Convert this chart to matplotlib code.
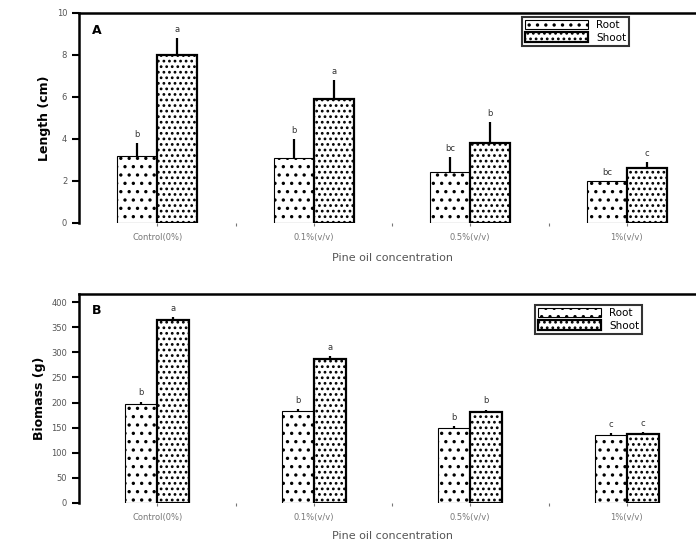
import numpy as np
import matplotlib
matplotlib.use('Agg')
import matplotlib.pyplot as plt

# data
categories = ['Control(0%)', '0.1%(v/v)', '0.5%(v/v)', '1%(v/v)']
series = ['Root', 'Shoot']

length_root = [3.2, 3.1, 2.45, 2.0]
length_shoot = [8.0, 5.9, 3.8, 2.6]
length_root_err = [0.6, 0.9, 0.7, 0.0]
length_shoot_err = [0.8, 0.9, 1.0, 0.3]
length_root_letters = ['b', 'b', 'bc', 'bc']
length_shoot_letters = ['a', 'a', 'b', 'c']

mass_root = [198, 184, 150, 136]
mass_shoot = [364, 286, 182, 137]
mass_root_err = [4, 3, 3, 3]
mass_shoot_err = [6, 6, 4, 4]
mass_root_letters = ['b', 'b', 'b', 'c']
mass_shoot_letters = ['a', 'a', 'b', 'c']

plt.rcParams['hatch.linewidth'] = 1.2

W, H = 696, 542
fig = plt.figure(figsize=(W / 100, H / 100), dpi=100)


def panel(rect, root, shoot, root_err, shoot_err, root_let, shoot_let,
          width, ylim, yticks, ylabel, tag, xlabel, legend_xy, xpad):
    ax = fig.add_axes(rect)
    x = np.arange(len(categories))
    ax.bar(x - width / 2, root, width, color='white', edgecolor='black',
           linewidth=0.8, hatch='..', label=series[0])
    ax.bar(x + width / 2, shoot, width, color='white', edgecolor='black',
           linewidth=1.6, hatch='...', label=series[1])
    ax.errorbar(x - width / 2, root, yerr=[np.zeros(len(root)), root_err],
                fmt='none', ecolor='black', elinewidth=1.6, capsize=0)
    ax.errorbar(x + width / 2, shoot, yerr=[np.zeros(len(shoot)), shoot_err],
                fmt='none', ecolor='black', elinewidth=1.6, capsize=0)
    pad = (ylim[1] - ylim[0]) * 0.02
    for i in range(len(x)):
        ax.text(x[i] - width / 2, root[i] + root_err[i] + pad, root_let[i],
                ha='center', va='bottom', fontsize=6, color='#333333')
        ax.text(x[i] + width / 2, shoot[i] + shoot_err[i] + pad, shoot_let[i],
                ha='center', va='bottom', fontsize=6, color='#333333')

    ax.set_xlim(-0.5, 3.5)
    ax.set_ylim(*ylim)
    ax.set_yticks(yticks)
    ax.set_xticks(x)
    ax.set_xticklabels(categories, fontsize=6, color='#555555')
    ax.set_xticks(x[:-1] + 0.5, minor=True)
    ax.tick_params(axis='x', which='both', length=2, width=0.8, colors='#777777', pad=5)
    ax.tick_params(axis='y', length=5, width=1.5, labelsize=6, labelcolor='#555555')
    for s in ['right', 'bottom']:
        ax.spines[s].set_visible(False)
    ax.spines['left'].set_linewidth(1.8)
    ax.spines['top'].set_linewidth(1.8)
    ax.set_ylabel(ylabel, fontsize=9, fontweight='bold')
    ax.set_xlabel(xlabel, fontsize=8, color='#555555', labelpad=xpad)
    ax.text(0.02, 0.95, tag, transform=ax.transAxes, fontsize=9,
            fontweight='bold', va='top')
    leg = ax.legend(loc='upper left', bbox_to_anchor=legend_xy,
                    bbox_transform=fig.transFigure, fontsize=7.5,
                    frameon=True, fancybox=False, edgecolor='black',
                    handlelength=6, handleheight=1.0, borderpad=0.3,
                    labelspacing=0.2, handletextpad=0.8, borderaxespad=0)
    leg.get_frame().set_linewidth(1.5)
    return ax


left = 79 / W
width_fig = (705 - 79) / W

panel([left, 1 - 223 / H, width_fig, (223 - 13) / H],
      length_root, length_shoot, length_root_err, length_shoot_err,
      length_root_letters, length_shoot_letters,
      0.255, (0, 10), np.arange(0, 11, 2), 'Length (cm)', 'A',
      'Pine oil concentration', (522 / W, 1 - 17 / H), 8)

panel([left, 1 - 503 / H, width_fig, (503 - 294) / H],
      mass_root, mass_shoot, mass_root_err, mass_shoot_err,
      mass_root_letters, mass_shoot_letters,
      0.205, (0, 416), np.arange(0, 401, 50), 'Biomass (g)', 'B',
      'Pine oil concentration', (535 / W, 1 - 305 / H), 7)

fig.savefig('out.png', dpi=100)
